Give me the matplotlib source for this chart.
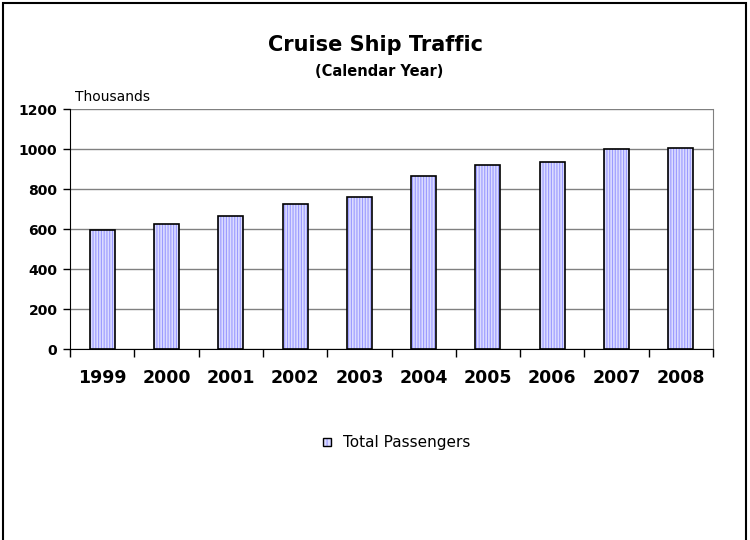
import matplotlib.pyplot as plt
import numpy as np
from matplotlib.patches import Rectangle

years = ['1999', '2000', '2001', '2002', '2003', '2004', '2005', '2006', '2007', '2008']
passengers = [598, 627, 667, 727, 760, 867, 920, 934, 1000, 1007]
y_ticks = [0, 200, 400, 600, 800, 1000, 1200]

plt.rcParams['font.family'] = ['DejaVu Sans']
plt.rcParams['hatch.linewidth'] = 0.8

fig = plt.figure(figsize=(7.5, 5.4), dpi=100)
ax = fig.add_axes([0.0933, 0.3531, 0.8574, 0.4449])

xx = np.arange(len(years))
bar_w = 0.39
# striped fill, then the black outline on top
ax.bar(xx, passengers, width=bar_w, color='#dcdcff', edgecolor='#9a9aff',
       hatch='||||||', linewidth=0, zorder=3)
ax.bar(xx, passengers, width=bar_w, fill=False, edgecolor='black',
       linewidth=1.2, zorder=4)

ax.set_xlim(-0.5, len(years) - 0.5)
ax.set_ylim(0, 1200)
ax.set_yticks(y_ticks)
ax.set_yticklabels([str(v) for v in y_ticks], fontsize=10, fontweight='bold')
ax.set_xticks(xx)
ax.set_xticklabels(years, fontsize=12.5, fontweight='bold')
ax.set_xticks(np.arange(len(years) + 1) - 0.5, minor=True)
ax.tick_params(axis='x', which='major', length=0, pad=14)
ax.tick_params(axis='x', which='minor', length=6, direction='out', width=1)
ax.tick_params(axis='y', length=5, width=1, pad=4)

ax.grid(axis='y', color='#808080', linewidth=1, zorder=0)
ax.set_axisbelow(True)
ax.spines['top'].set_visible(False)
ax.spines['right'].set_color('#808080')
ax.spines['left'].set_color('black')
ax.spines['bottom'].set_color('black')

fig.text(0.5, 0.916, 'Cruise Ship Traffic', ha='center', va='center',
         fontsize=15, fontweight='bold')
fig.text(0.506, 0.867, '(Calendar Year)', ha='center', va='center',
         fontsize=10.5, fontweight='bold')
fig.text(0.1, 0.82, 'Thousands', ha='left', va='center', fontsize=10)

# legend
lx, ly, lw, lh = 0.4307, 0.174, 0.0105, 0.0148
fig.patches.append(Rectangle((lx, ly), lw, lh, transform=fig.transFigure,
                             facecolor='#dcdcff', edgecolor='#9a9aff', hatch='||||',
                             linewidth=0))
fig.patches.append(Rectangle((lx, ly), lw, lh, transform=fig.transFigure,
                             fill=False, edgecolor='black', linewidth=1.0))
fig.text(0.457, 0.181, 'Total Passengers', ha='left', va='center', fontsize=11)

# outer frame
fig.patches.append(Rectangle((0.004, -0.05), 0.991, 1.045, transform=fig.transFigure,
                             fill=False, edgecolor='black', linewidth=1.5))

fig.savefig('out.png', dpi=100)
